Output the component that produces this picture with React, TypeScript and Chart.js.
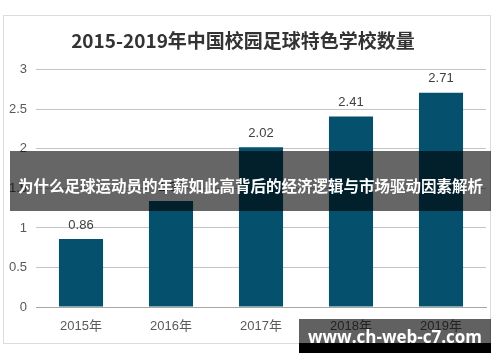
import React, { useEffect, useRef } from "react";
import { Chart, registerables } from "chart.js";

Chart.register(...registerables);

const categories = ["2015年", "2016年", "2017年", "2018年", "2019年"];
const values = [0.86, 1.34, 2.02, 2.41, 2.71];
const yTicks = [0, 0.5, 1, 1.5, 2, 2.5, 3];
const titleText = "2015-2019年中国校园足球特色学校数量";
const bannerText = "为什么足球运动员的年薪如此高背后的经济逻辑与市场驱动因素解析";
const watermarkText = "www.ch-web-c7.com";

const valueLabels = {
  id: "valueLabels",
  afterDatasetsDraw(chart: any) {
    const ctx = chart.ctx;
    const meta = chart.getDatasetMeta(0);
    ctx.save();
    ctx.font = '13px "Liberation Sans", Arial, sans-serif';
    ctx.fillStyle = "#404040";
    ctx.textAlign = "center";
    ctx.textBaseline = "middle";
    meta.data.forEach((bar: any, i: number) => {
      ctx.fillText(String(values[i]), bar.x, bar.y - 14);
    });
    ctx.restore();
  },
};

export default function App() {
  const ref = useRef<HTMLCanvasElement>(null);
  useEffect(() => {
    if (!ref.current) return;
    const chart = new Chart(ref.current, {
      type: "bar",
      data: {
        labels: categories,
        datasets: [
          {
            data: values,
            backgroundColor: "#05506C",
            barPercentage: 0.49,
            categoryPercentage: 1,
          },
        ],
      },
      options: {
        animation: false,
        responsive: false,
        layout: { padding: { left: 0, right: 14, top: 0, bottom: 0 } },
        plugins: {
          legend: { display: false },
          tooltip: { enabled: false },
          title: {
            display: true,
            text: titleText,
            color: "#333333",
            font: { size: 19, weight: "bold", family: '"Noto Sans CJK SC", sans-serif' },
            padding: { top: 29, bottom: 18 },
          },
        },
        scales: {
          x: {
            grid: { display: false, drawTicks: false },
            border: { display: true, color: "#a6a6a6", width: 1 },
            ticks: {
              color: "#595959",
              font: { size: 13, family: '"Liberation Sans", "Noto Sans CJK SC", sans-serif' },
              padding: 12,
            },
            afterFit(scale: any) {
              scale.height = 55;
            },
          },
          y: {
            min: 0,
            max: 3,
            afterBuildTicks(scale: any) {
              scale.ticks = yTicks.map((v) => ({ value: v }));
            },
            grid: { color: "#c4c4c4", drawTicks: false },
            border: { display: false },
            ticks: {
              color: "#595959",
              font: { size: 13, family: '"Liberation Sans", Arial, sans-serif' },
              padding: 9,
              callback: (v: any) => String(v),
            },
            afterFit(scale: any) {
              scale.width = 36;
            },
          },
        },
      },
      plugins: [valueLabels],
    } as any);
    return () => chart.destroy();
  }, []);

  return (
    <div style={{ position: "absolute", left: 0, top: 0, width: 500, height: 362, background: "#fff", overflow: "hidden" }}>
      <div
        style={{
          position: "absolute",
          left: 3,
          top: 15,
          width: 488,
          height: 329,
          border: "1px solid #dcdcdc",
          boxSizing: "border-box",
        }}
      />
      <canvas ref={ref} width={500} height={362} style={{ position: "absolute", left: 0, top: 0 }} />
      <div
        style={{
          position: "absolute",
          left: 10,
          top: 151,
          width: 481,
          height: 60,
          background: "rgba(0,0,0,0.6)",
          color: "#fff",
          fontFamily: '"Noto Sans CJK SC", sans-serif',
          fontWeight: "bold",
          fontSize: 15.5,
          lineHeight: "60px",
          textAlign: "center",
          whiteSpace: "nowrap",
          letterSpacing: 0,
          paddingTop: 4,
          boxSizing: "border-box",
        }}
      >
        {bannerText}
      </div>
      <div
        style={{
          position: "absolute",
          left: 299,
          top: 319,
          width: 192,
          height: 24,
          background: "rgba(0,0,0,0.62)",
        }}
      />
      <div
        style={{
          position: "absolute",
          left: 299,
          top: 343,
          width: 192,
          height: 10,
          background: "#000",
        }}
      />
      <div
        style={{
          position: "absolute",
          left: 299,
          top: 322,
          width: 192,
          height: 30,
          color: "#fff",
          fontFamily: '"Open Sans", sans-serif',
          fontWeight: "bold",
          fontSize: 17,
          lineHeight: "30px",
          textAlign: "center",
          whiteSpace: "nowrap",
        }}
      >
        {watermarkText}
      </div>
    </div>
  );
}
